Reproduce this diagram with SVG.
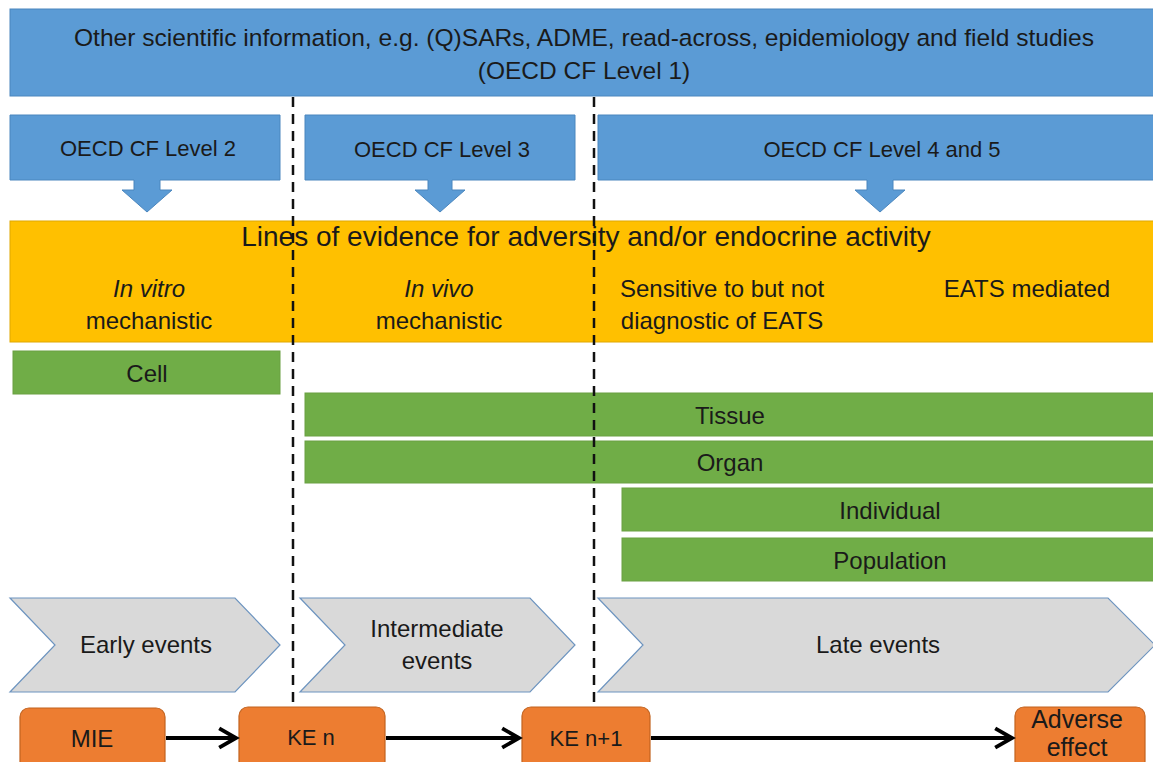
<svg xmlns="http://www.w3.org/2000/svg" width="1153" height="762" viewBox="0 0 1153 762">
<style>
text{font-family:"Liberation Sans","DejaVu Sans",sans-serif;fill:#1a1a1a;text-anchor:middle}
.blue{fill:#5B9BD5;stroke:#4a86be;stroke-width:1}
.band{fill:#FFC000;stroke:#e0a800;stroke-width:1}
.green{fill:#70AD47;stroke:#6aa042;stroke-width:1}
.chev{fill:#D9D9D9;stroke:#6d94bf;stroke-width:1.2}
.node{fill:#ED7D31;stroke:#c2631f;stroke-width:1.2}
.t24{font-size:24px}
.t22{font-size:22px}
.it{font-style:italic}
.dash{stroke:#111;stroke-width:2.5;stroke-dasharray:10,7;fill:none}
.conn{stroke:#000;stroke-width:4;fill:none}
</style>
<defs>
<marker id="ah" viewBox="0 0 10 10" refX="8.5" refY="5" markerWidth="6" markerHeight="6" orient="auto" markerUnits="strokeWidth">
<path d="M1.5,1 L8.5,5 L1.5,9" fill="none" stroke="#000" stroke-width="1.6" stroke-linejoin="miter"/>
</marker>
</defs>
<rect width="1153" height="762" fill="#fff"/>

<g id="level1">
<rect class="blue" x="10" y="9" width="1150" height="87"/>
<text x="584" y="46" style="font-size:24.5px" textLength="1020" lengthAdjust="spacingAndGlyphs">Other scientific information, e.g. (Q)SARs, ADME, read-across, epidemiology and field studies</text>
<text x="584" y="79" style="font-size:24.5px">(OECD CF Level 1)</text>
</g>

<g id="level2">
<path class="blue" d="M10,115 H280 V180 H160 V190 H172 L147,212 L122,190 H134 V180 H10 Z"/>
<text class="t22" x="148" y="156">OECD CF Level 2</text>
</g>
<g id="level3">
<path class="blue" d="M305,115 H575 V180 H452 V190 H465 L440,212 L415,190 H428 V180 H305 Z"/>
<text class="t22" x="442" y="157">OECD CF Level 3</text>
</g>
<g id="level45">
<path class="blue" d="M598,115 H1160 V180 H893 V190 H905 L880,212 L855,190 H867 V180 H598 Z"/>
<text class="t22" x="882" y="157">OECD CF Level 4 and 5</text>
</g>

<g id="evidence">
<rect class="band" x="10" y="221" width="1150" height="121"/>
<text x="586" y="246" style="font-size:28px">Lines of evidence for adversity and/or endocrine activity</text>
<text class="t24 it" x="149" y="297">In vitro</text>
<text class="t24" x="149" y="329">mechanistic</text>
<text class="t24 it" x="439" y="297">In vivo</text>
<text class="t24" x="439" y="329">mechanistic</text>
<text class="t24" x="722" y="297">Sensitive to but not</text>
<text class="t24" x="722" y="329">diagnostic of EATS</text>
<text class="t24" x="1027" y="297">EATS mediated</text>
</g>

<g id="cell"><rect class="green" x="13" y="351" width="267" height="43"/><text class="t24" x="147" y="382">Cell</text></g>
<g id="tissue"><rect class="green" x="305" y="393" width="855" height="43"/><text class="t24" x="730" y="424">Tissue</text></g>
<g id="organ"><rect class="green" x="305" y="441" width="855" height="42"/><text class="t24" x="730" y="471">Organ</text></g>
<g id="individual"><rect class="green" x="622" y="488" width="538" height="43"/><text class="t24" x="890" y="519">Individual</text></g>
<g id="population"><rect class="green" x="622" y="538" width="538" height="43"/><text class="t24" x="890" y="569">Population</text></g>

<g id="early"><path class="chev" d="M10,598 H235 L280,645 L235,692 H10 L55,645 Z"/><text class="t24" x="146" y="653">Early events</text></g>
<g id="intermediate"><path class="chev" d="M300,598 H530 L575,645 L530,692 H300 L345,645 Z"/><text class="t24" x="437" y="637">Intermediate</text><text class="t24" x="437" y="669">events</text></g>
<g id="late"><path class="chev" d="M598,598 H1108 L1155,645 L1108,692 H598 L643,645 Z"/><text class="t24" x="878" y="653">Late events</text></g>

<g id="dividers">
<line class="dash" x1="293" y1="97" x2="293" y2="702"/>
<line class="dash" x1="594" y1="97" x2="594" y2="702"/>
</g>

<g id="mie"><rect class="node" x="20" y="708" width="145" height="62" rx="9"/><text class="t24" x="92" y="747">MIE</text></g>
<g id="ken"><rect class="node" x="239" y="707" width="146" height="63" rx="9"/><text class="t22" x="311" y="745">KE n</text></g>
<g id="ken1"><rect class="node" x="522" y="707" width="128" height="63" rx="9"/><text class="t22" x="586" y="746">KE n+1</text></g>
<g id="adverse"><rect class="node" x="1015" y="707" width="130" height="63" rx="9"/><text x="1077" y="728" style="font-size:25px">Adverse</text><text x="1077" y="756" style="font-size:25px">effect</text></g>

<g id="connectors">
<line class="conn" x1="166" y1="738" x2="236" y2="738" marker-end="url(#ah)"/>
<line class="conn" x1="386" y1="738" x2="519" y2="738" marker-end="url(#ah)"/>
<line class="conn" x1="651" y1="738" x2="1012" y2="738" marker-end="url(#ah)"/>
</g>
</svg>
